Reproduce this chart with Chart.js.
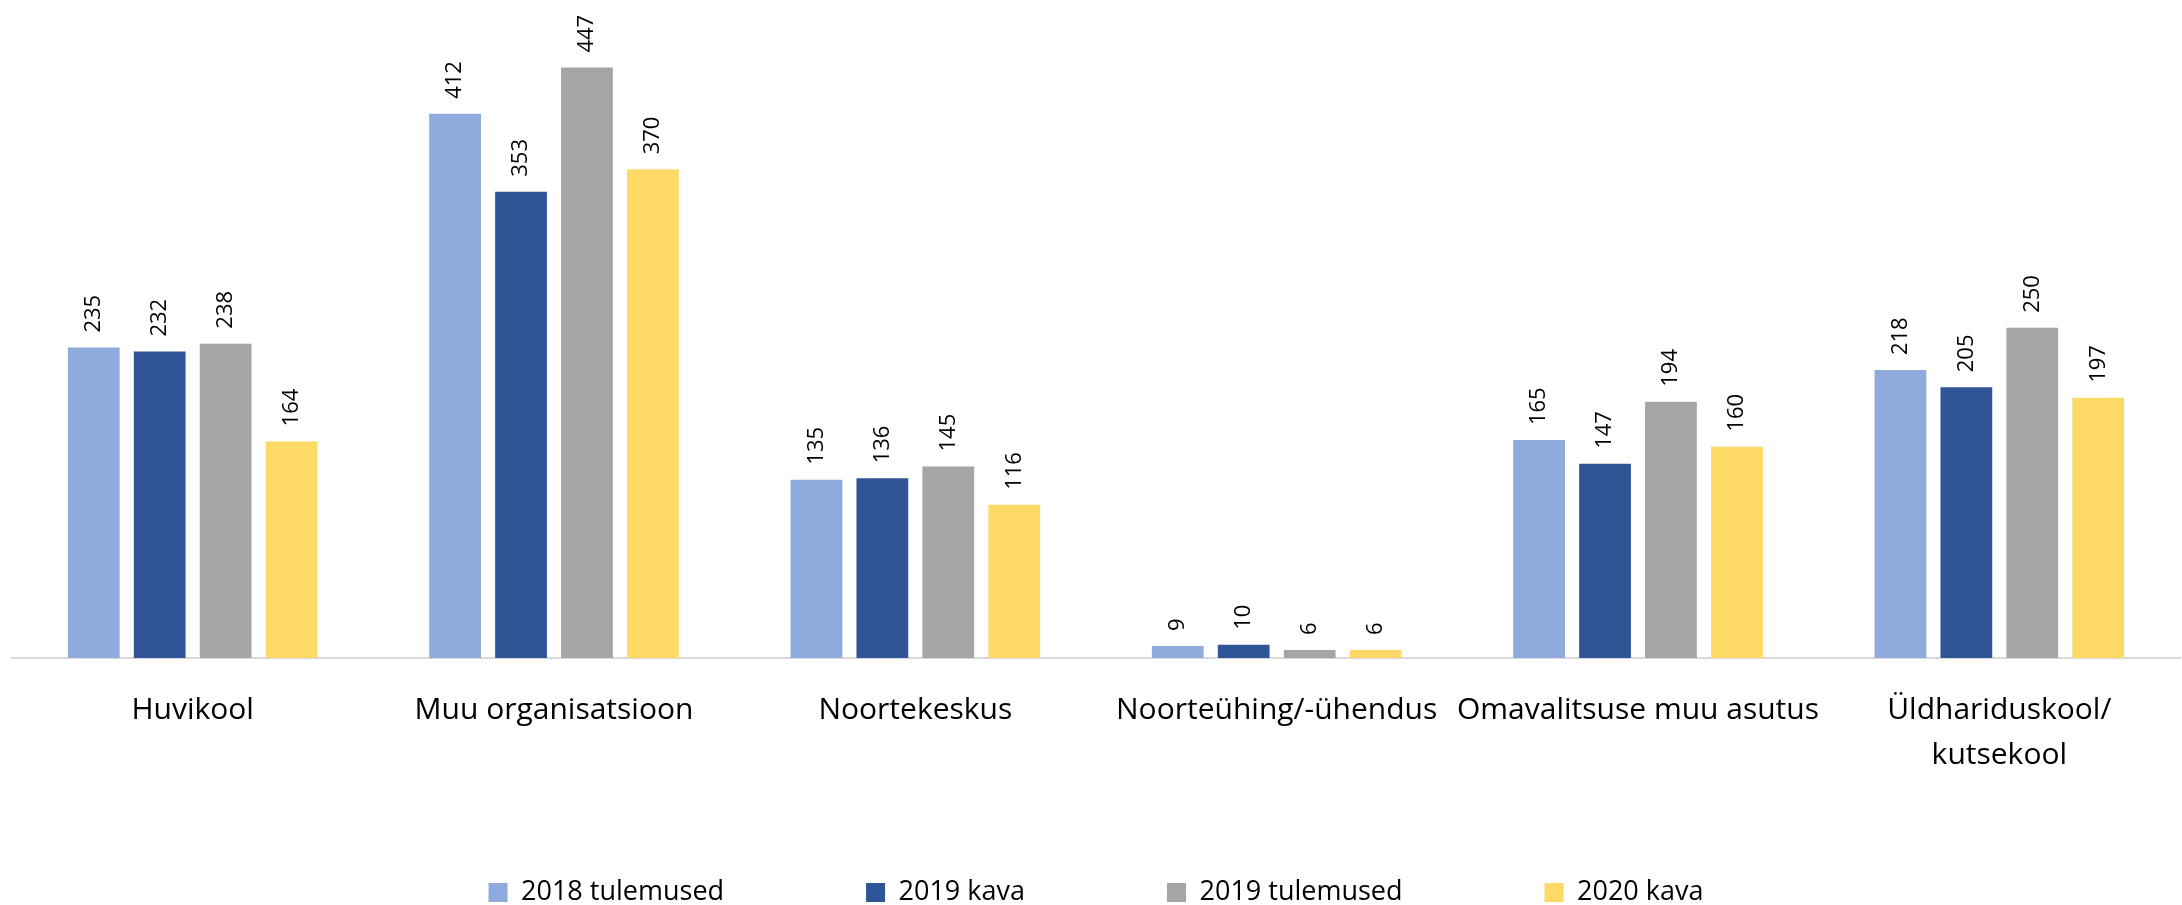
<!DOCTYPE html>
<html><head><meta charset="utf-8">
<script src="https://cdn.jsdelivr.net/npm/chart.js@4.4.1/dist/chart.umd.min.js"></script>
<style>
html,body{margin:0;padding:0;background:#fff;overflow:hidden;}
#wrap{width:2182px;height:905px;overflow:hidden;position:relative;background:#fff;}
canvas{display:block;}
</style></head>
<body><div id="wrap"><canvas id="c" width="2182" height="916"></canvas></div>
<script>
const categories = ['Huvikool', 'Muu organisatsioon', 'Noortekeskus', 'Noorteühing/-ühendus', 'Omavalitsuse muu asutus', ['Üldhariduskool/', 'kutsekool']];
const seriesNames = ['2018 tulemused', '2019 kava', '2019 tulemused', '2020 kava'];
const tulemused2018 = [235, 412, 135, 9, 165, 218];
const kava2019 = [232, 353, 136, 10, 147, 205];
const tulemused2019 = [238, 447, 145, 6, 194, 250];
const kava2020 = [164, 370, 116, 6, 160, 197];
const seriesColors = ['#8FAADC', '#2F5597', '#A5A5A5', '#FFD966'];
const seriesValues = [tulemused2018, kava2019, tulemused2019, kava2020];

const valueLabels = {
  id: 'valueLabels',
  afterDatasetsDraw(chart) {
    const ctx = chart.ctx;
    ctx.save();
    ctx.font = '22px "Open Sans"';
    ctx.fillStyle = '#000';
    ctx.textAlign = 'left';
    ctx.textBaseline = 'middle';
    chart.data.datasets.forEach((ds, i) => {
      const meta = chart.getDatasetMeta(i);
      meta.data.forEach((bar, j) => {
        ctx.save();
        ctx.translate(bar.x, bar.y - 15);
        ctx.rotate(-Math.PI / 2);
        ctx.fillText(String(ds.data[j]), 0, 0);
        ctx.restore();
      });
    });
    ctx.restore();
  }
};

// let the two-line category label extend below the compact x-axis box
const labelRoom = {
  id: 'labelRoom',
  afterLayout(chart) {
    chart.scales.x.bottom = chart.height;
  }
};

new Chart(document.getElementById('c'), {
  type: 'bar',
  data: {
    labels: categories,
    datasets: seriesNames.map((name, i) => ({
      label: name,
      data: seriesValues[i],
      backgroundColor: seriesColors[i],
      borderWidth: 0,
      categoryPercentage: 0.73,
      barPercentage: 0.785
    }))
  },
  options: {
    responsive: false,
    animation: false,
    layout: { padding: { top: 24, left: 12, right: 2, bottom: 0 } },
    plugins: {
      legend: {
        position: 'bottom',
        labels: {
          font: { family: 'Open Sans', size: 27 },
          color: '#000',
          boxWidth: 19,
          boxHeight: 19,
          padding: 142
        }
      },
      tooltip: { enabled: false }
    },
    scales: {
      x: {
        grid: { display: false },
        border: { display: true, color: '#D9D9D9', width: 2 },
        ticks: {
          font: { family: 'Open Sans', size: 30, lineHeight: 1.5 },
          color: '#000',
          padding: 22,
          maxRotation: 0,
          minRotation: 0,
          autoSkip: false
        },
        afterFit(scale) { scale.height = 79; }
      },
      y: { display: false, min: 0, max: 480 }
    }
  },
  plugins: [valueLabels, labelRoom]
});
</script>
</body></html>
